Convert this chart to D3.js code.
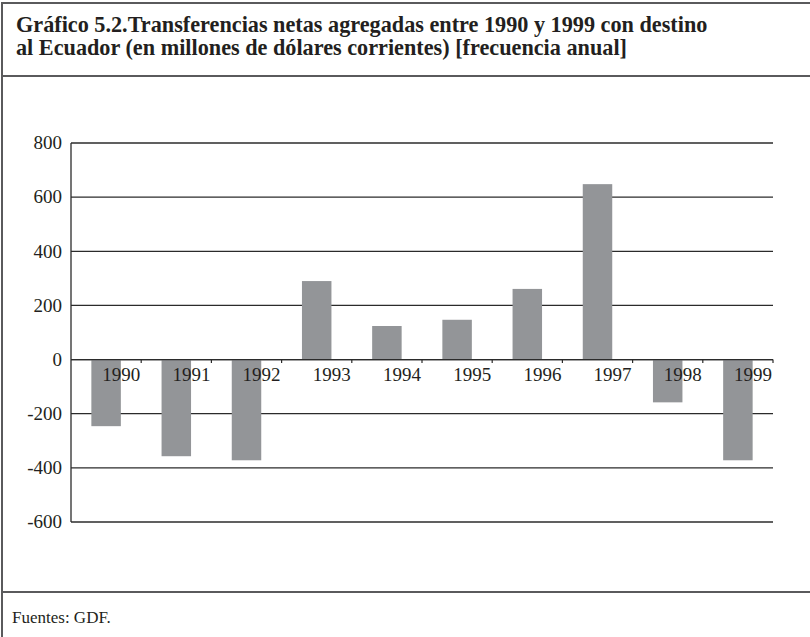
<!DOCTYPE html>
<html><head><meta charset="utf-8">
<script src="https://cdn.jsdelivr.net/npm/d3@7"></script>
<style>
html,body{margin:0;padding:0;background:#fff;}
svg{display:block;font-family:"Liberation Serif","DejaVu Serif",serif;}
</style></head>
<body>
<svg id="chart" width="810" height="637"></svg>
<script>
const years = ["1990","1991","1992","1993","1994","1995","1996","1997","1998","1999"];
const values = [-246, -357, -372, 290, 124, 147, 261, 648, -158, -372];
const yTicks = [800, 600, 400, 200, 0, -200, -400, -600];
const titleLines = [
  "Gráfico 5.2.Transferencias netas agregadas entre 1990 y 1999 con destino",
  "al Ecuador (en millones de dólares corrientes) [frecuencia anual]"
];
const sourceText = "Fuentes: GDF.";

const svg = d3.select("#chart");
const W = 810, H = 637;
const frameColor = "#5a5a5c";

// frame
svg.append("line").attr("x1",2).attr("x2",W).attr("y1",3).attr("y2",3)
  .attr("stroke",frameColor).attr("stroke-width",2);
svg.append("line").attr("x1",2).attr("x2",2).attr("y1",2).attr("y2",H)
  .attr("stroke",frameColor).attr("stroke-width",2);
svg.append("line").attr("x1",2).attr("x2",W).attr("y1",76).attr("y2",76)
  .attr("stroke",frameColor).attr("stroke-width",2);
svg.append("line").attr("x1",2).attr("x2",W).attr("y1",592).attr("y2",592)
  .attr("stroke",frameColor).attr("stroke-width",2);

// title
const tTargets = [692, 601];
titleLines.forEach((t,i)=>{
  const el = svg.append("text").attr("x",16).attr("y", i===0?32:55)
    .attr("font-weight","bold").attr("font-size",20).attr("fill","#231f20").text(t);
  const len = el.node().getComputedTextLength();
  if (i===0) { const fs = 20*tTargets[0]/len; svg.selectAll("text.title").attr("font-size",fs); el.attr("font-size",fs).classed("title",true); }
  else { el.classed("title",true); }
});
// ensure both lines share size
const fsTitle = +svg.select("text.title").attr("font-size");
svg.selectAll("text.title").attr("font-size", fsTitle);

// scales
const x = d3.scaleBand().domain(years).range([71,773]).paddingInner(0.58).paddingOuter(0.29);
const y = d3.scaleLinear().domain([-600,800]).range([522,143]);
const step = x.step();

// gridlines
svg.append("g").selectAll("line").data(yTicks).join("line")
  .attr("x1",71).attr("x2",773)
  .attr("y1",d=>y(d)).attr("y2",d=>y(d))
  .attr("stroke","#2b2b2b").attr("stroke-width",1.3);

// bars
svg.append("g").selectAll("rect").data(values).join("rect")
  .attr("x",(d,i)=>x(years[i]))
  .attr("width",x.bandwidth())
  .attr("y",d=>y(Math.max(0,d)))
  .attr("height",d=>Math.abs(y(d)-y(0)))
  .attr("fill","#939598");

// y axis line
svg.append("line").attr("x1",71).attr("x2",71).attr("y1",y(800)).attr("y2",y(-600))
  .attr("stroke","#2b2b2b").attr("stroke-width",1.3);
// zero line on top
svg.append("line").attr("x1",71).attr("x2",773).attr("y1",y(0)).attr("y2",y(0))
  .attr("stroke","#2b2b2b").attr("stroke-width",1.3);

// x ticks at band boundaries
const boundaries = years.map((d,i)=>71 + (i+1)*step);
svg.append("g").selectAll("line").data(boundaries).join("line")
  .attr("x1",d=>d).attr("x2",d=>d).attr("y1",y(0)).attr("y2",y(0)+3.5)
  .attr("stroke","#2b2b2b").attr("stroke-width",1.2);

// x labels
svg.append("g").selectAll("text").data(years).join("text")
  .attr("x",(d,i)=>71 + (i+1)*step - 1)
  .attr("y",381)
  .attr("text-anchor","end")
  .attr("font-size",19).attr("fill","#231f20")
  .text(d=>d);

// y labels
svg.append("g").selectAll("text").data(yTicks).join("text")
  .attr("x",62).attr("y",d=>y(d)).attr("dy","0.33em")
  .attr("text-anchor","end")
  .attr("font-size",19).attr("fill","#231f20")
  .text(d=>d);

// source
svg.append("text").attr("x",12).attr("y",623).attr("font-size",17).attr("fill","#231f20").text(sourceText);
</script>
</body></html>
